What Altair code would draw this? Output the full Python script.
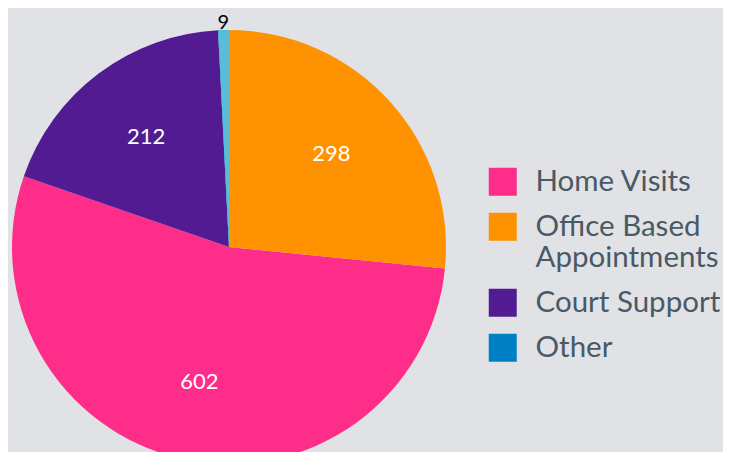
import altair as alt
import pandas as pd

categories = ["Home Visits", "Office Based Appointments", "Court Support", "Other"]
values = [602, 298, 212, 9]
pie_order = ["Office Based Appointments", "Home Visits", "Court Support", "Other"]
legend_colors = ["#ff2d8a", "#ff9200", "#521b92", "#0080c4"]
other_slice_color = "#5bbcd6"

df = pd.DataFrame({"category": categories, "value": values})
df["k"] = [pie_order.index(c) for c in categories]

FONT = "Lato"

base = alt.Chart(df).encode(
    theta=alt.Theta("value:Q", stack=True),
    order=alt.Order("k:Q"),
    x=alt.value(221),
    y=alt.value(239),
)

arcs = base.mark_arc(radius=217).encode(
    color=alt.Color(
        "category:N",
        scale=alt.Scale(domain=categories, range=legend_colors),
        legend=alt.Legend(
            orient="none", legendX=480, legendY=159, title=None,
            symbolType="square", symbolSize=784, symbolStrokeWidth=0,
            labelFontSize=29.5, labelFont=FONT, labelColor="#4a5966",
            labelOffset=18, rowPadding=14, labelLimit=0, padding=0,
            labelExpr="datum.label == 'Office Based Appointments' ? ['Office Based', 'Appointments'] : datum.label",
        ),
    )
)

other = base.mark_arc(radius=217, color=other_slice_color).encode(
    opacity=alt.condition(alt.datum.category == "Other", alt.value(1), alt.value(0))
)

inner = base.mark_text(radius=138, fontSize=22, color="white", font=FONT, baseline="middle").encode(
    text="value:Q",
    opacity=alt.condition(alt.datum.value >= 50, alt.value(1), alt.value(0)),
)
outer = base.mark_text(radius=224, fontSize=20, color="black", font=FONT, baseline="middle").encode(
    text="value:Q",
    opacity=alt.condition(alt.datum.value < 50, alt.value(1), alt.value(0)),
)

chart = alt.layer(arcs, other, inner, outer).properties(
    width=715, height=444, autosize=alt.AutoSizeParams(type="none"), padding=0,
    background="#e1e2e5",
).configure_view(stroke=None)

chart.save("out.html", embed_options={"renderer": "svg", "actions": False})
